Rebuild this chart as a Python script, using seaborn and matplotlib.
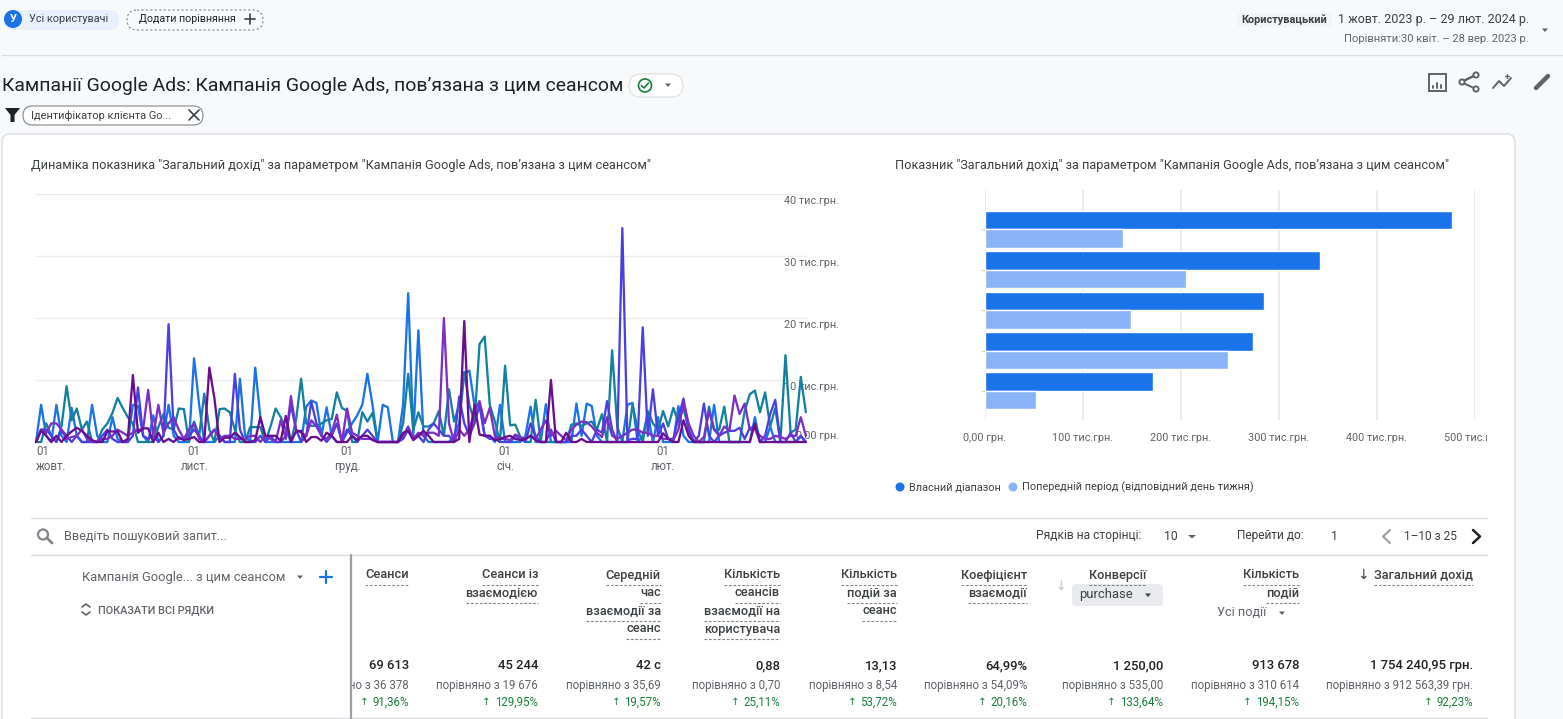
import numpy as np
import pandas as pd
import seaborn as sns
import matplotlib
matplotlib.use('Agg')
import matplotlib.pyplot as plt
from matplotlib.patches import FancyBboxPatch, Circle, Polygon, Rectangle
from matplotlib.transforms import Bbox

# daily revenue by campaign, thousand UAH
blue = [0,6,1,0,6,1,0,5.5,1,0,
        0,6,1,0,0,4,0.5,0,0,6,
        5.8,1,0,4.3,0,1,6,1,0,0,
        0,13.5,6,0,0,0,1,0,0,0,
        10.2,1,0,12,4,0,0,0,0,0,
        0,0,0,5.7,6.7,6.3,1,5.6,1,0,
        0,1.5,3,4.3,6,11,6,0,6,5.6,
        0,0,6,24,1,18,1,0,0,0,
        0,0,1,3,11,11.5,6,6,1,1,
        0,6,0,0,0,0,1,5.7,0,0,
        6.1,0,0,0,0,0,6.2,1,6.2,5.8,
        1,0,0,0,0,0,6,6.3,0,1,
        4.6,0,4,0,0,0,5.8,1,0,0,
        0,0,0,6,0,0,0,0,0,0,
        0,4,0,0,2.5,0,0,0,0,0,
        1,0]
teal = [0,0,3,1,0,2.5,9,3.5,5.4,2,
        3.3,0,0,2,3,4.7,7.1,5.5,4,3,
        0,0,0,0,2.4,4.5,2.3,2,5.4,5.3,
        0,3.3,1,7.8,2,0,5.3,5.4,4.8,2,
        0,0,2.4,2.4,2.4,0,2.5,5.4,4,2,
        0,3.5,10.2,3,2.6,2.6,3,3.5,3.7,8,
        5.5,5,0,0,4.8,3.3,4.7,0,0,0,
        0,0,3,11,2,4.8,2.5,2.5,3,5,
        1,8.5,3.3,6,11.3,6,3.2,15.8,17,6,
        3.3,0,12.3,2.7,2.8,0.8,0,0,6.8,0,
        0,0,0,0,0,2.8,3,2.6,3,3.3,
        2,4.5,0,14.8,2.5,0,0,6,2,0,
        5,3,2,5,2.5,5.5,3.2,5.5,2,0,
        0,0,5.7,2,2,5.7,0,0,0,5,
        7.7,8.3,4.8,8,2.5,5.5,0,14,1.5,2,
        10.5,4.8]
indigo = [0,2,2,1,0,2,1,0,1,0,
          0,0,0,1,2,0.5,0,0,0,1,
          8.8,1,0.5,1,0,1,19,2,0.5,0.5,
          1,2,1,0,1,2,1,0,0,11,
          2,0,0,0,1,0,1,0,0,1,
          6,2,0,1,6.5,3,1,0,1,3,
          0,2,1,0,1,2,1,0,0,0,
          0,0,0.5,2,0.5,1,0,2,3,2,
          1,1,0,7.3,3,1,3,6,1,0.5,
          0.5,0,0,0,1,0.5,0,3,1,0,
          0,2,0,0,0,1,1,2,1,0,
          2,1.5,6.6,2,0,34.5,0.3,0.5,0.5,18.5,
          1,8.5,1,3,0.5,0.5,4,7,2,0,
          1,6.2,1,0,1,1.5,1.8,1.8,2.3,0.5,
          2.3,2.3,0,1,4.5,6.8,0,0,1.5,0,
          1,0]
purple = [0,2,1.5,3,3,2,0.5,0.8,1,2,
          0.5,0,0,0.5,0.5,1,2,1.5,1,1.5,
          2,2,8.4,1,6,1.5,3,4,2,0.5,
          2,3,0.5,0,1,2,0.5,1,1,0.5,
          0.5,0.5,1,1,0,1,0.5,0,3.5,0.5,
          7.4,2,1.5,1,3.5,2.5,1,0.5,1.5,4.4,
          0,5.4,1.5,1,0.5,0.5,0.5,0,0,0,
          0,0,1,2.5,0.5,1.5,1,1.5,1.5,1,
          20,3,0,2,1,2,5,6.6,3,5.5,
          1,0.5,0.5,0.3,1.2,0.8,0.5,1,0.5,2,
          3.5,1,1.8,1,0.3,2,2.8,3.3,3.2,2.5,
          1.5,0.8,4,1,0.5,1,1.5,2,2,1.5,
          1.5,1,1,0.5,0.5,0.3,2,6.5,3,1,
          0,0.8,5,2,1,2.5,1.8,7.5,4.5,6.2,
          2,2,1,0.5,0.5,1,0.8,0.5,1,1,
          4,1]
dark = [0,1.8,1,0,1,0,1,1.7,2.3,1.8,
        1,0.3,0,0,1.7,1.7,1.7,0,0.5,10.8,
        1.5,2.2,2.2,0,1.5,0,0.5,0,0.8,0.3,
        0.5,0.8,0,0,12,7,0,0.7,0.7,1.5,
        0.8,0,0,0.3,4,1,1,1,0.2,4.2,
        0,1.7,1.8,0,0.8,0.8,0.2,1.5,1,0,
        0,0,1,0.3,1,1,0.3,0,0,0,
        0,0,1.5,1.8,0.3,1,1.8,1,0,0,
        0,0,0,0.5,19.5,0,6,1.2,1,1,
        0.3,0.5,0.8,1,0.5,0.3,0.5,1,0.3,0,
        0,10,0,0,1.5,0,0,0.5,0,0,
        0,0,0,0,0,0,0,0,0,0,
        0,0,0,1.4,0.5,0,0,3.5,1,0,
        0,0,0,0,0,0,0,0,0,0,
        0,3,0,0,0,0,0,0,0,0,
        0,0]
line_series = {'c1': blue, 'c2': teal, 'c3': indigo, 'c4': purple, 'c5': dark}
line_colors = ['#1a73e8', '#12819f', '#4b3fe4', '#7b2fc6', '#6a0d8f']

bar_groups = ['c1', 'c2', 'c3', 'c4', 'c5']
bar_current = [477, 342, 285, 273, 171]
bar_previous = [141, 205, 149, 248, 52]
bar_ticks = [0, 100, 200, 300, 400, 500]
bar_labels = ['0,00 грн.', '100 тис.грн.', '200 тис.грн.', '300 тис.грн.', '400 тис.грн.', '500 тис.грн.']
y_ticks = [0, 10, 20, 30, 40]
y_labels = ['0,00 грн.', '10 тис.грн.', '20 тис.грн.', '30 тис.грн.', '40 тис.грн.']
month_ticks = ['2023-10-01', '2023-11-01', '2023-12-01', '2024-01-01', '2024-02-01']
month_labels = ['01\nжовт.', '01\nлист.', '01\nгруд.', '01\nсіч.', '01\nлют.']

# table columns: right edge, header lines, value, compared with, change
col_right = [409, 538, 661, 780, 897, 1027, 1146, 1299, 1473]
col_head = [['Сеанси'], ['Сеанси із', 'взаємодією'], ['Середній', 'час', 'взаємодії за', 'сеанс'],
            ['Кількість', 'сеансів', 'взаємодії на', 'користувача'], ['Кількість', 'подій за', 'сеанс'],
            ['Коефіцієнт', 'взаємодії'], ['Конверсії'], ['Кількість', 'подій'], ['Загальний дохід']]
col_value = ['69 613', '45 244', '42 с', '0,88', '13,13', '64,99%', '1 250,00', '913 678', '1 754 240,95 грн.']
col_prev = ['порівняно з 36 378', 'порівняно з 19 676', 'порівняно з 35,69', 'порівняно з 0,70', 'порівняно з 8,54',
            'порівняно з 54,09%', 'порівняно з 535,00', 'порівняно з 310 614', 'порівняно з 912 563,39 грн.']
col_change = ['91,36%', '129,95%', '19,57%', '25,11%', '53,72%', '20,16%', '133,64%', '194,15%', '92,23%']

sns.set_theme(style='white')
FONT = ['Roboto', 'DejaVu Sans']
plt.rcParams['font.family'] = FONT
W, H = 1563, 719
DARK, GREY, LINE = '#202124', '#5f6368', '#dadce0'

fig = plt.figure(figsize=(W/100, H/100), dpi=100, facecolor='#f8f9fb')


def px_axes(x0, y0, x1, y1):
    return fig.add_axes([x0/W, 1-y1/H, (x1-x0)/W, (y1-y0)/H])


ui = fig.add_axes([0, 0, 1, 1], zorder=0)
ui.set_xlim(0, W)
ui.set_ylim(H, 0)
ui.axis('off')


def txt(x, y, s, size=8.6, color=DARK, ha='left', **kw):
    return ui.text(x, y, s, fontsize=size, color=color, ha=ha, va='center', **kw)


def chip(x0, y0, x1, y1, fc='none', ec='none', ls='-', z=1, r=None):
    r = (y1-y0)/2 if r is None else r
    ui.add_patch(FancyBboxPatch((x0, y0), x1-x0, y1-y0, boxstyle=f'round,pad=0,rounding_size={r}',
                                fc=fc, ec=ec, lw=0.8, ls=ls, zorder=z))


def tri(x, y, color=GREY, s=3):
    ui.add_patch(Polygon([(x-s, y-1.5), (x+s, y-1.5), (x, y+2)], fc=color, ec='none', zorder=6))


def seg(xs, ys, color=GREY, lw=1.2, z=6, **kw):
    ui.plot(xs, ys, color=color, lw=lw, zorder=z, solid_capstyle='round', **kw)


# page frame
ui.add_patch(FancyBboxPatch((2, 134), 1513, 640, boxstyle='round,pad=0,rounding_size=8', fc='white', ec=LINE, lw=1))
seg([2, W], [55, 55], LINE, 1, 2)

# top bar
chip(4, 10, 119, 30, fc='#e8f0fe')
ui.add_patch(Circle((13, 19), 9, fc='#1a73e8', ec='none', zorder=3))
txt(13, 19, 'У', 8, 'white', ha='center', fontweight='bold', zorder=4)
txt(29, 19.5, 'Усі користувачі', 7.8, '#3c4043')
chip(127, 10, 263, 30, ec='#80868b', ls=(0, (2, 2)))
txt(139, 19.5, 'Додати порівняння', 7.7, DARK)
seg([245, 255], [19, 19], '#3c4043')
seg([250, 250], [14, 24], '#3c4043')
ui.add_patch(Rectangle((1238, 13), 94, 14, fc='#f1f3f4', ec='none'))
txt(1241, 20, 'Користувацький', 7.8, '#3c4043', fontweight='bold')
txt(1529, 20, '1 жовт. 2023 р. – 29 лют. 2024 р.', 9, '#3c4043', ha='right')
txt(1529, 39, 'Порівняти:30 квіт. – 28 вер. 2023 р.', 8, GREY, ha='right')
tri(1545, 30)

# report title
txt(2, 86, 'Кампанії Google Ads: Кампанія Google Ads, пов’язана з цим сеансом', 13.93, DARK)
chip(629, 74, 683, 97, fc='white', ec=LINE)
ui.add_patch(Circle((645, 85.5), 6.5, fc='none', ec='#188038', lw=1.2, zorder=6))
seg([641.5, 644, 648.5], [85.5, 88, 83], '#188038', 1.2)
tri(668, 85)
ui.add_patch(Rectangle((1429, 74), 17, 17, fc='none', ec=GREY, lw=1.4, zorder=6))
seg([1433, 1433], [86, 88], GREY, 1.4)
seg([1437, 1437], [83, 88], GREY, 1.4)
seg([1441, 1441], [85, 88], GREY, 1.4)
seg([1461, 1476, 1461], [82, 75, 82], GREY, 1.4)
seg([1461, 1476], [82, 89], GREY, 1.4)
for cx, cy in [(1476, 75), (1462, 82), (1476, 89)]:
    ui.add_patch(Circle((cx, cy), 2.6, fc='white', ec=GREY, lw=1.4, zorder=7))
seg([1493, 1499, 1504, 1511], [88, 81, 86, 78], GREY, 1.4)
seg([1507, 1507], [74, 78], GREY, 1)
seg([1505, 1509], [76, 76], GREY, 1)
seg([1536, 1548], [88, 76], GREY, 3.2)

# filter row
ui.add_patch(Polygon([(5, 108), (20, 108), (14.5, 115), (14.5, 122), (10.5, 122), (10.5, 115)], fc='#202124', ec='none'))
chip(23, 106, 203, 125, fc='white', ec='#80868b')
txt(31, 115.5, 'Ідентифікатор клієнта Go...', 7.9, '#3c4043')
seg([189, 199], [110, 120], '#3c4043')
seg([189, 199], [120, 110], '#3c4043')

# chart titles
txt(31, 165, 'Динаміка показника "Загальний дохід" за параметром "Кампанія Google Ads, пов’язана з цим сеансом"', 9.2, '#3c4043')
txt(895, 165, 'Показник "Загальний дохід" за параметром "Кампанія Google Ads, пов’язана з цим сеансом"', 9.2, '#3c4043')

# line chart
dates = pd.date_range('2023-10-01', periods=len(blue))
df_line = pd.concat([pd.DataFrame({'date': dates, 'value': v, 'campaign': k}) for k, v in line_series.items()])
ax = px_axes(36, 194, 808, 442)
ax.patch.set_alpha(0)
ax.set_zorder(2)
sns.lineplot(data=df_line, x='date', y='value', hue='campaign', palette=line_colors, estimator=None,
             errorbar=None, lw=1.65, legend=False, ax=ax, clip_on=False)
ax.set_xlim(dates[0], pd.Timestamp('2024-02-29') + pd.Timedelta(hours=10))
ax.set_ylim(0, 40)
ax.set_xlabel('')
ax.set_ylabel('')
sns.despine(ax=ax, left=True, bottom=True)
ax.set_yticks(y_ticks)
ax.set_yticklabels([])
ax.grid(axis='y', color='#ebebeb', lw=1)
ax.set_axisbelow(True)
ax.set_xticks(pd.to_datetime(month_ticks))
ax.set_xticklabels(month_labels, fontsize=8.3, color=GREY, linespacing=1.15)
ax.tick_params(axis='x', length=0, pad=2.5)
ax.get_xticklabels()[0].set_ha('left')
for t, lab in zip(y_ticks, y_labels):
    off = 6 if t == 0 else -7.5
    ax.annotate(lab, (1, t), xycoords=('axes fraction', 'data'), xytext=(31*0.72, off*0.72), textcoords='offset points',
                ha='right', va='center', fontsize=7.8, color=GREY, annotation_clip=False, zorder=1)

# bar chart
df_bar = pd.DataFrame({'campaign': bar_groups*2, 'value': bar_current+bar_previous,
                       'period': ['Власний діапазон']*5+['Попередній період (відповідний день тижня)']*5})
bx = px_axes(985, 190, 1475, 420)
bx.patch.set_alpha(0)
bx.set_zorder(2)
sns.barplot(data=df_bar, y='campaign', x='value', hue='period', palette=['#1a73e8', '#8ab4f8'], dodge=True,
            width=0.92, gap=0.0, saturation=1, legend=False, ax=bx)
bx.set_xlim(0, 500)
bx.set_ylim(4.72, -0.975)
bx.set_xlabel('')
bx.set_ylabel('')
sns.despine(ax=bx, left=True, bottom=True)
bx.set_xticks(bar_ticks)
bx.set_xticklabels(bar_labels, fontsize=7.8, color=GREY)
bx.set_yticklabels([])
bx.grid(axis='x', color='#e8e8e8', lw=1.2)
bx.set_axisbelow(True)
bx.tick_params(axis='x', length=0, pad=9.5)
bx.tick_params(axis='y', left=True, length=3, width=1, color='#dadce0', pad=0)
for lab in bx.get_xticklabels():
    lab.set_clip_on(True)
    lab.set_clip_box(Bbox([[0, 0], [1487, H]]))

# bar legend
ui.add_patch(Circle((900, 487), 4.5, fc='#1a73e8', ec='none'))
txt(909, 487.5, 'Власний діапазон', 7.85, '#3c4043')
ui.add_patch(Circle((1013, 487), 4.5, fc='#8ab4f8', ec='none'))
txt(1022, 487.5, 'Попередній період (відповідний день тижня)', 7.85, '#3c4043')

# table toolbar
seg([31, 1487], [518, 518], LINE, 1, 2)
seg([31, 1487], [555, 555], LINE, 1, 2)
seg([31, 1487], [717.5, 717.5], LINE, 1, 2)
ui.add_patch(Circle((43, 534.5), 5, fc='none', ec='#80868b', lw=1.6, zorder=6))
seg([47, 52], [538, 543], '#80868b', 2)
txt(64, 536.5, 'Введіть пошуковий запит...', 9.1, GREY)
txt(1036, 536, 'Рядків на сторінці:', 8.65, '#3c4043')
txt(1164, 536.5, '10', 8.8, '#3c4043')
tri(1192, 536.5, s=4)
txt(1237, 536, 'Перейти до:', 8.6, '#3c4043')
txt(1331, 536.5, '1', 8.8, '#3c4043')
seg([1390, 1383, 1390], [530, 536.5, 543], '#9aa0a6', 1.5)
txt(1404, 536, '1–10 з 25', 8.6, '#3c4043')
seg([1473, 1480, 1473], [530, 536.5, 543], '#202124', 1.8)

# table header
renderer = fig.canvas.get_renderer()
for right, lines in zip(col_right, col_head):
    for i, s in enumerate(lines):
        t = txt(right, 575+18*i, s, 9.15, '#3c4043', ha='right', fontweight='medium')
        bb = t.get_window_extent(renderer)
        seg([bb.x0, bb.x1], [584.5+18*i]*2, '#80868b', 0.8, ls=(0, (2.5, 1.5)))
txt(82, 577, 'Кампанія Google... з цим сеансом', 9.3, GREY)
tri(300, 577)
seg([320, 332], [577, 577], '#1a73e8', 1.6)
seg([326, 326], [571, 583], '#1a73e8', 1.6)
seg([82, 86, 90], [607, 604, 607], '#5f6368', 1.2)
seg([82, 86, 90], [612, 615, 612], '#5f6368', 1.2)
txt(98, 610.5, 'ПОКАЗАТИ ВСІ РЯДКИ', 7.8, GREY, fontweight='medium')
ui.text(1061, 586, '↓', fontsize=9, color='#bdc1c6', ha='center', va='center', family=['DejaVu Sans'])
chip(1072, 584, 1163, 606, fc='#e8eaed', r=4)
txt(1079, 594.5, 'purchase', 9.4, '#3c4043', zorder=6)
tri(1148, 595, '#3c4043')
txt(1217, 613, 'Усі події', 9.1, GREY)
tri(1282, 613)
ui.text(1363, 575, '↓', fontsize=10, color='#3c4043', ha='center', va='center', family=['DejaVu Sans'])

# table totals
for right, val, prev, chg in zip(col_right, col_value, col_prev, col_change):
    if right == 1146:
        right = 1163
    txt(right, 665.5, val, 9.4, DARK, ha='right', fontweight='medium')
    txt(right, 685, prev, 8.3, GREY, ha='right')
    t = txt(right, 702, chg, 8.3, '#188038', ha='right')
    bb = t.get_window_extent(renderer)
    ui.text(bb.x0-4, 702, '↑', fontsize=7.5, color='#188038', ha='right', va='center', family=['DejaVu Sans'])

# sticky first column hides what scrolls under it
ui.add_patch(Rectangle((31, 640), 319, 76, fc='white', ec='none', zorder=8))
seg([350.5, 350.5], [555, H], '#9aa0a6', 1.6, 9)

fig.savefig('out.png', dpi=100, facecolor=fig.get_facecolor())
